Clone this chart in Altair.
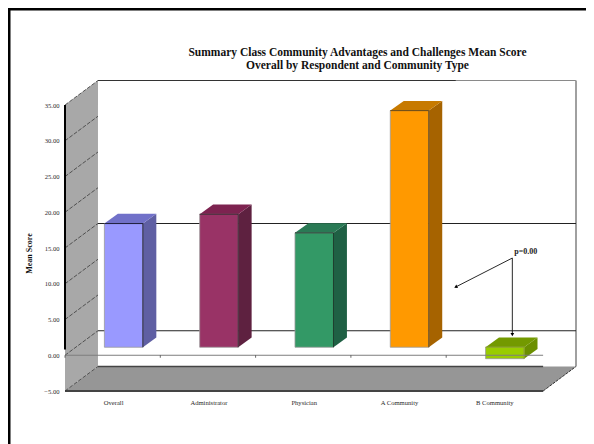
import altair as alt
import pandas as pd

categories = ["Overall", "Administrator", "Physician", "A Community", "B Community"]
values = [17.3, 18.6, 16.0, 33.1, -1.6]
front_colors = ["#9999ff", "#993366", "#339966", "#ff9900", "#99cc00"]
side_colors = ["#5f5fa3", "#5e2140", "#1f6044", "#a66300", "#6b8f00"]
top_colors = ["#7171c9", "#7d2350", "#2a7a55", "#c77a00", "#739900"]
edge_colors = ["#111133", "#331122", "#113322", "#664000", "#88aa00"]
y_ticks = [-5, 0, 5, 10, 15, 20, 25, 30, 35]
back_grid = [0, 15]
wall_grid = [-5, 0, 5, 10, 15, 20, 25, 30, 35]
cat_ticks = [0, 1, 2, 3, 4]

n = len(categories)
DX, DY = 0.346, 3.43          # depth of the chart box in axis units
BW, BDX, BDY = 0.404, 0.141, 1.36  # bar width and depth
BASE = 1.12
FRONT_END = 5.017
XMAX = 5.362
SERIF = "Liberation Serif"
xs = alt.Scale(domain=[0, XMAX], nice=False, zero=False)
ys = alt.Scale(domain=[-5, 38.36], nice=False, zero=False)

x_axis = alt.Axis(
    values=[0.505 + i for i in range(n)], domain=False, ticks=False, grid=False,
    labelFont=SERIF, labelFontSize=6.6, labelColor="#2a2a2a", labelPadding=8,
    labelExpr="[" + ",".join(f"'{c}'" for c in categories) + "][floor(datum.value)]",
)
y_axis = alt.Axis(
    values=y_ticks, domain=False, ticks=False, grid=False, format=".2f",
    labelFont=SERIF, labelFontSize=6.6, labelColor="#2a2a2a", labelPadding=6,
    titleFont=SERIF, titleFontSize=8, titleFontWeight="bold",
    titleColor="#111111", titleX=-32, titleY=172, titleAngle=270,
)
X = lambda f="x": alt.X(f"{f}:Q", scale=xs, axis=x_axis, title=None)
Y = lambda f="y": alt.Y(f"{f}:Q", scale=ys, axis=y_axis, title="Mean Score")


def rules(rows, color, width, dash=None):
    df = pd.DataFrame(rows, columns=["x", "x2", "y", "y2"])
    kw = {"strokeDash": dash} if dash else {}
    return alt.Chart(df).mark_rule(color=color, strokeWidth=width, **kw).encode(
        x=X(), x2="x2:Q", y=Y(), y2="y2:Q"
    )


def vface(df):
    return alt.Chart(df).mark_area(orient="vertical").encode(
        x=X(), y=Y(), y2="y2:Q",
        color=alt.Color("fill:N", scale=None, legend=None), detail="face:N",
    )


def hface(df):
    return alt.Chart(df).mark_area(orient="horizontal").encode(
        y=Y(), x=X(), x2="x2:Q",
        color=alt.Color("fill:N", scale=None, legend=None), detail="face:N",
    )


# box
wall = vface(pd.DataFrame({
    "x": [0, DX], "y": [35, 35 + DY], "y2": [-5, -5 + DY],
    "fill": ["#a8a8a8"] * 2, "face": ["wall"] * 2}))
floor = hface(pd.DataFrame({
    "y": [-5, -5 + DY], "x": [0, DX], "x2": [FRONT_END, XMAX],
    "fill": ["#969696"] * 2, "face": ["floor"] * 2}))

box = [
    wall, floor,
    rules([[DX, XMAX, 35 + DY, 35 + DY]], "#8a8a8a", 1.2),
    rules([[DX, 4.1, 35 + DY, 35 + DY]], "#333333", 1.2),
    rules([[XMAX, XMAX, 35 + DY, -5 + DY]], "#a0a0a0", 2),
    rules([[DX, XMAX, v + DY, v + DY] for v in back_grid], "#222222", 1.1),
    rules([[DX, FRONT_END, -5 + DY, -5 + DY]], "#444444", 1.4),
    rules([[0, FRONT_END, -5, -5]], "#444444", 2),
    rules([[FRONT_END, XMAX, -5, -5 + DY]], "#333333", 1, [3, 1]),
    rules([[0, DX, v, v + DY] for v in wall_grid], "#3a3a3a", 0.8, [4, 1.5]),
    rules([[0, 0, 35, 0.8]], "#000000", 2),
]

# bars
bars = []
for i, v in enumerate(values):
    left = i + 0.5 + DX / 3 - BW / 2
    right = left + BW
    hi, lo = max(BASE, BASE + v), min(BASE, BASE + v)
    side = pd.DataFrame({
        "x": [right, right + BDX], "y": [hi, hi + BDY], "y2": [lo, lo + BDY],
        "fill": [side_colors[i]] * 2, "face": [f"s{i}"] * 2})
    top = pd.DataFrame({
        "y": [hi, hi + BDY], "x": [left, left + BDX], "x2": [right, right + BDX],
        "fill": [top_colors[i]] * 2, "face": [f"t{i}"] * 2})
    front = pd.DataFrame({"x": [left], "x2": [right], "y": [hi], "y2": [lo]})
    bars += [
        vface(side), hface(top),
        alt.Chart(front).mark_rect(
            color=front_colors[i], stroke="#9a9a9a", strokeWidth=0.8
        ).encode(x=X(), x2="x2:Q", y=Y(), y2="y2:Q"),
        rules([[right, right, hi, lo], [left, right, hi, hi]], edge_colors[i], 0.9),
    ]

# zero plane and ticks
zero = [
    rules([[0, FRONT_END, 0, 0]], "#7d7d7d", 1),
    rules([[t, t, 0, -0.35] for t in cat_ticks], "#444444", 0.8),
]

# annotation
p_x, p_y = 4.694, 13.6
left_arrow = (4.10, 9.55)
down_arrow = (4.694, 2.9)
notes = [
    rules([[p_x, left_arrow[0], p_y, left_arrow[1]],
           [p_x, down_arrow[0], p_y, down_arrow[1]]], "#111111", 0.9),
    alt.Chart(pd.DataFrame({"x": [down_arrow[0]], "y": [down_arrow[1]]})).mark_point(
        shape="triangle-down", filled=True, color="#000000", size=14, opacity=1
    ).encode(x=X(), y=Y()),
    alt.Chart(pd.DataFrame({"x": [left_arrow[0]], "y": [left_arrow[1]]})).mark_point(
        shape="triangle-up", filled=True, color="#000000", size=14, opacity=1, angle=243
    ).encode(x=X(), y=Y()),
    alt.Chart(pd.DataFrame({"x": [4.835], "y": [14.45], "t": ["p=0.00"]})).mark_text(
        font=SERIF, fontSize=8, fontWeight="bold", fill="#222222"
    ).encode(x=X(), y=Y(), text="t:N"),
]

# page frame
frame = [
    alt.Chart(pd.DataFrame({"a": [0]})).mark_rule(color="#000000", strokeWidth=3).encode(
        x=alt.value(-56), x2=alt.value(521), y=alt.value(-72), y2=alt.value(-72)),
    alt.Chart(pd.DataFrame({"a": [0]})).mark_rule(color="#000000", strokeWidth=3).encode(
        x=alt.value(-56), x2=alt.value(-56), y=alt.value(-73), y2=alt.value(363)),
]

chart = alt.layer(*box, *bars, *zero, *notes, *frame).properties(
    width=511, height=310,
    padding={"left": 57, "right": 10, "top": 73, "bottom": 53},
    autosize=alt.AutoSizeParams(type="none"),
    title=alt.TitleParams(
        text=["Summary Class Community Advantages and Challenges Mean Score",
              "Overall by Respondent and Community Type"],
        font=SERIF, fontSize=11.5, fontWeight="bold", color="#111111",
        anchor="middle", dx=37, offset=-65, lineHeight=13,
    ),
).configure_view(stroke=None)

chart.save("out.html", embed_options={"renderer": "svg", "actions": False})
